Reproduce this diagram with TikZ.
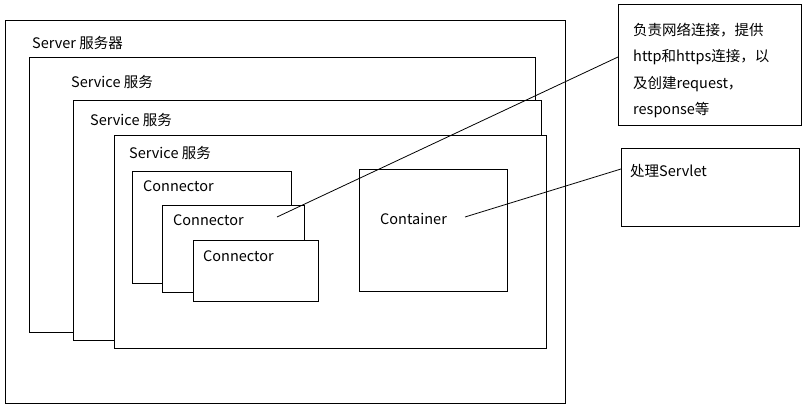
\documentclass[tikz,border=0pt]{standalone}
\usepackage{fontspec}
\setmainfont{Noto Sans CJK SC}
\begin{document}
\begin{tikzpicture}[x=1pt,y=-1pt,
  box/.style={draw=black,line width=1pt,fill=white,inner sep=0pt,anchor=north west},
  lbl/.style={inner sep=0pt,anchor=base west,font=\fontsize{14.5}{26.3}\selectfont},
  link/.style={draw=black,line width=0.8pt}]
\useasboundingbox (0,0) rectangle (808,409);
% outer boxes
\node[box,minimum width=560pt,minimum height=383pt] (server) at (5,20) {};
\node[box,minimum width=506pt,minimum height=275pt] (svc1) at (29,57) {};
\node[box,minimum width=468pt,minimum height=240pt] (svc2) at (73,100) {};
\node[box,minimum width=432pt,minimum height=213pt] (svc3) at (114,135) {};
\node[lbl] (tserver) at (32,49) {Server 服务器};
\node[lbl] (tsvc1) at (71,88) {Service 服务};
\node[lbl] (tsvc2) at (90,125) {Service 服务};
\node[lbl] (tsvc3) at (129,158) {Service 服务};
% connectors
\node[box,minimum width=159pt,minimum height=112pt] (con1) at (132,171) {};
\node[lbl] (tcon1) at (143,191) {Connector};
\node[box,minimum width=142pt,minimum height=87pt] (con2) at (162,205) {};
\node[lbl] (tcon2) at (173,225) {Connector};
\node[box,minimum width=125pt,minimum height=61pt] (con3) at (193,240) {};
\node[lbl] (tcon3) at (203,261) {Connector};
% container
\node[box,minimum width=148pt,minimum height=122pt] (cont) at (359,169) {};
\node[lbl] (tcont) at (380,224) {Container};
% notes
\node[box,minimum width=183pt,minimum height=121pt] (note1) at (618,4) {};
\node[lbl,align=left,anchor=north west] (tnote1) at (633,23) {负责网络连接，提供\\http和https连接，以\\及创建request，\\response等};
\node[box,minimum width=178pt,minimum height=78pt] (note2) at (621,148) {};
\node[lbl] (tnote2) at (630,176) {处理Servlet};
% leader lines
\coordinate (p1) at (277,217);
\coordinate (q1) at (618,57);
\coordinate (p2) at (465,217);
\coordinate (q2) at (621,169);
\draw[link] (p1) -- (q1);
\draw[link] (p2) -- (q2);
\end{tikzpicture}
\end{document}
